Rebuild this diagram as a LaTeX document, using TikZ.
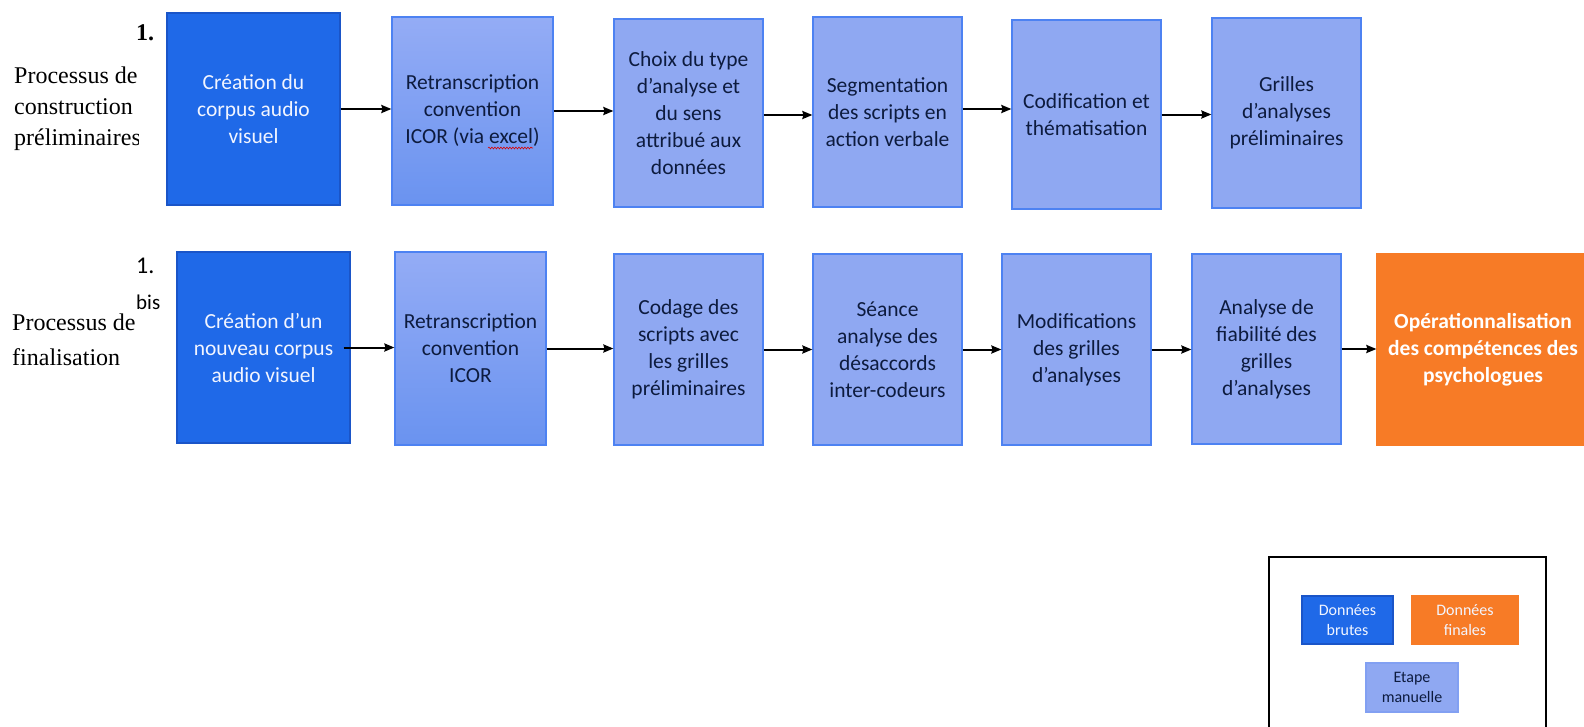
\documentclass[tikz,border=0pt]{standalone}
\usepackage{fontspec}
\setmainfont{Liberation Serif}
\newfontfamily\calib{Carlito}
\usetikzlibrary{arrows.meta,decorations.pathmorphing}
\definecolor{darkblue}{HTML}{1F69E8}
\definecolor{darkblueB}{HTML}{1A55C8}
\definecolor{lightblue}{HTML}{8FA8F2}
\definecolor{lightblueB}{HTML}{4D82F2}
\definecolor{gradtop}{HTML}{94ACF5}
\definecolor{gradbot}{HTML}{6A93F0}
\definecolor{orangeF}{HTML}{F77B26}
\definecolor{navy}{HTML}{0D1B3E}
\definecolor{offwhite}{HTML}{F2F5FF}
\tikzset{
  box/.style={rectangle, inner sep=2pt, align=center, line width=1.2pt,
    font=\calib\fontsize{21.5}{27}\selectfont},
  darkbox/.style={box, fill=darkblue, draw=darkblueB, text=offwhite},
  lightbox/.style={box, fill=lightblue, draw=lightblueB, text=navy},
  gradbox/.style={box, top color=gradtop, bottom color=gradbot, draw=lightblueB, text=navy},
  finalbox/.style={box, fill=orangeF, draw=orangeF, text=white,
    font=\calib\bfseries\fontsize{21.5}{27}\selectfont},
  arr/.style={-{Stealth[length=10pt,width=8pt,inset=1pt]}, line width=2pt, black},
  side/.style={anchor=base west, inner sep=0pt, font=\fontsize{24}{31}\selectfont},
  legbox/.style={rectangle, inner sep=1pt, align=center, line width=1.2pt,
    font=\calib\fontsize{16}{20}\selectfont}
}
\begin{document}
\begin{tikzpicture}[x=1pt,y=-1pt]
\useasboundingbox (0,0) rectangle (1584,726);
\fill[white] (0,0) rectangle (1584,726);

% left labels, row 1
\begin{scope}
\clip (0,0) rectangle (138,230);
\node[side] (l1a) at (14,83) {Processus de};
\node[side] (l1b) at (14,114) {construction};
\node[side] (l1c) at (14,145) {préliminaires};
\end{scope}
\node[side] (n1) at (136,40) {\textbf{1.}};

% left labels, row 2
\node[side] (l2a) at (12,330) {Processus de};
\node[side] (l2b) at (12,365) {finalisation};
\node[anchor=base west, inner sep=0pt, font=\calib\fontsize{24}{24}\selectfont] (n2) at (136,273) {1.};
\node[anchor=base west, inner sep=0pt, font=\calib\fontsize{21}{21}\selectfont] (bis) at (136,309) {bis};

% row 1
\node[darkbox, minimum width=173, minimum height=192] (t1) at (253.5,109) {Création du\\corpus audio\\visuel};
\node[gradbox, minimum width=161, minimum height=188] (t2) at (472.5,111) {Retranscription\\convention\\ICOR (via excel)};
\node[lightbox, minimum width=149, minimum height=188] (t3) at (688.5,113) {Choix du type\\d’analyse et\\du sens\\attribué aux\\données};
\node[lightbox, minimum width=149, minimum height=190] (t4) at (887.5,112) {Segmentation\\des scripts en\\action verbale};
\node[lightbox, minimum width=149, minimum height=189] (t5) at (1086.5,114.5) {Codification et\\thématisation};
\node[lightbox, minimum width=149, minimum height=190] (t6) at (1286.5,113) {Grilles\\d’analyses\\préliminaires};

% spelling mark under "excel"
\draw[red!85!black, line width=0.6pt, decorate, decoration={snake, amplitude=0.9pt, segment length=3pt}] (488,148) -- (533,148);

\draw[arr] (t1.east) -- (t1.east -| t2.west);
\draw[arr] (t2.east) -- (t2.east -| t3.west);
\draw[arr] ([yshift=-2pt]t3.east) -- ([yshift=-2pt]t3.east -| t4.west);
\draw[arr] ([yshift=3pt]t4.east) -- ([yshift=3pt]t4.east -| t5.west);
\draw[arr] (t5.east) -- (t5.east -| t6.west);

% row 2
\node[darkbox, minimum width=173, minimum height=191] (b1) at (263.5,347.5) {Création d’un\\nouveau corpus\\audio visuel};
\node[gradbox, minimum width=151, minimum height=193] (b2) at (470.5,348.5) {Retranscription\\convention\\ICOR};
\node[lightbox, minimum width=149, minimum height=191] (b3) at (688.5,349.5) {Codage des\\scripts avec\\les grilles\\préliminaires};
\node[lightbox, minimum width=149, minimum height=191] (b4) at (887.5,349.5) {Séance\\analyse des\\désaccords\\inter-codeurs};
\node[lightbox, minimum width=149, minimum height=191] (b5) at (1076.5,349.5) {Modifications\\des grilles\\d’analyses};
\node[lightbox, minimum width=149, minimum height=190] (b6) at (1266.5,349) {Analyse de\\fiabilité des\\grilles\\d’analyses};
\node[finalbox, minimum width=212, minimum height=191] (b7) at (1483,349.5) {Opérationnalisation\\des compétences des\\psychologues};

\draw[arr] ([xshift=-7pt]b1.east) -- (b1.east -| b2.west);
\draw[arr] (b2.east) -- (b2.east -| b3.west);
\draw[arr] (b3.east) -- (b3.east -| b4.west);
\draw[arr] (b4.east) -- (b4.east -| b5.west);
\draw[arr] (b5.east) -- (b5.east -| b6.west);
\draw[arr] (b6.east) -- (b6.east -| b7.west);

% legend
\draw[line width=1.8pt, black] (1269,740) -- (1269,557) -- (1546,557) -- (1546,740);
\node[legbox, fill=darkblue, draw=darkblueB, text=offwhite, minimum width=91, minimum height=48] (lg1) at (1347.5,620) {Données\\brutes};
\node[legbox, fill=orangeF, draw=orangeF, text=offwhite, minimum width=106, minimum height=48] (lg2) at (1465,620) {Données\\finales};
\node[legbox, fill=lightblue, draw=lightblue!80!lightblueB, text=navy, minimum width=92, minimum height=49] (lg3) at (1412,687.5) {Etape\\manuelle};
\end{tikzpicture}
\end{document}
